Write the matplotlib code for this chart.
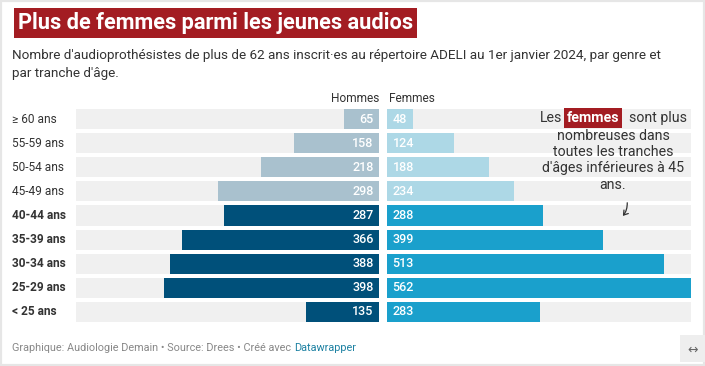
import matplotlib
matplotlib.use("Agg")
import matplotlib.pyplot as plt
from matplotlib.patches import Rectangle, FancyArrowPatch

categories = ["≥ 60 ans", "55-59 ans", "50-54 ans", "45-49 ans", "40-44 ans",
              "35-39 ans", "30-34 ans", "25-29 ans", "< 25 ans"]
hommes = [65, 158, 218, 298, 287, 366, 388, 398, 135]
femmes = [48, 124, 188, 234, 288, 399, 513, 562, 283]
highlight = [False, False, False, False, True, True, True, True, True]

W, H = 705, 366
fig = plt.figure(figsize=(W / 100, H / 100), dpi=100)
fig.patch.set_facecolor("white")
plt.rcParams['font.family'] = ['Roboto', 'DejaVu Sans']

def fx(px):
    return px / W

def fy(py):
    return 1 - py / H

# outer light border
fig.add_artist(Rectangle((0, 0), 1, 1, transform=fig.transFigure, fill=False,
                         edgecolor="#e6e6e6", lw=3))
# bottom-right icon box
fig.add_artist(Rectangle((fx(680), fy(362)), fx(25), 27 / H,
                         transform=fig.transFigure, facecolor="#eeeeee", edgecolor="none"))
fig.text(fx(693), fy(350), "↔", ha="center", va="center", fontsize=9, color="#666666",
         family=['DejaVu Sans'])

# Title
fig.text(fx(18), fy(23), "Plus de femmes parmi les jeunes audios", fontsize=15.7,
         fontweight="bold", color="white", ha="left", va="center",
         bbox=dict(boxstyle="square,pad=0.18", facecolor="#a31c22", edgecolor="none"))
# Subtitle
fig.text(fx(12), fy(55), "Nombre d'audioprothésistes de plus de 62 ans inscrit·es au répertoire ADELI au 1er janvier 2024, par genre et",
         fontsize=9.7, color="#333333", ha="left", va="center")
fig.text(fx(12), fy(73), "par tranche d'âge.", fontsize=9.7, color="#333333", ha="left", va="center")

# Footer
ft = fig.text(fx(12), fy(348), "Graphique: Audiologie Demain • Source: Drees • Créé avec ",
              fontsize=7.8, color="#888888", ha="left", va="center")
fig.canvas.draw()
bb = ft.get_window_extent()
fig.text(bb.x1 / W, fy(348), "Datawrapper", fontsize=7.8, color="#1d81a2", ha="left", va="center")

top, bottom = 107, 324
n = len(categories)
ax_m = fig.add_axes([fx(76), fy(bottom), fx(379 - 76), (bottom - top) / H])
ax_f = fig.add_axes([fx(387), fy(bottom), fx(691 - 387), (bottom - top) / H])
maxv = max(max(hommes), max(femmes))
ypos = list(range(n))
bh = 0.83

for ax in (ax_m, ax_f):
    ax.set_ylim(n - 0.5, -0.5)
    ax.axis("off")
    ax.barh(ypos, [maxv] * n, height=bh, color="#f0f0f0", edgecolor="none")
ax_m.set_xlim(maxv, 0)
ax_f.set_xlim(0, maxv)

mcol = ["#00507a" if h else "#a9c1ce" for h in highlight]
fcol = ["#1aa0cc" if h else "#add8e6" for h in highlight]
ax_m.barh(ypos, hommes, height=bh, color=mcol, edgecolor="none")
ax_f.barh(ypos, femmes, height=bh, color=fcol, edgecolor="none")

for i in range(n):
    ax_m.annotate(str(hommes[i]), (0, i), xytext=(-4, 0), textcoords="offset points",
                  ha="right", va="center", color="white", fontsize=9, fontweight="medium")
    ax_f.annotate(str(femmes[i]), (0, i), xytext=(4, 0), textcoords="offset points",
                  ha="left", va="center", color="white", fontsize=9, fontweight="medium")
    ax_m.annotate(categories[i], (maxv, i), xytext=(-64 * 0.72, 0),
                  textcoords="offset points", ha="left", va="center", color="#333333",
                  fontsize=8.6, fontweight="bold" if highlight[i] else "normal",
                  annotation_clip=False)

fig.text(fx(379), fy(98), "Hommes", ha="right", va="center", fontsize=8.6, color="#333333")
fig.text(fx(389), fy(98), "Femmes", ha="left", va="center", fontsize=8.6, color="#333333")

# Annotation
afs = 10.2
ann_c = 613
fig.text(fx(540), fy(118), "Les", ha="left", va="center", fontsize=afs, color="#333333")
fig.text(fx(567), fy(118), "femmes", ha="left", va="center", fontsize=afs, color="white",
         fontweight="bold", bbox=dict(boxstyle="square,pad=0.2", facecolor="#a31c22", edgecolor="none"))
fig.text(fx(687), fy(118), "sont plus", ha="right", va="center", fontsize=afs, color="#333333")
for k, (line, yy) in enumerate(zip(["nombreuses dans", "toutes les tranches", "d'âges inférieures à 45", "ans."],
                                  [136, 152, 168, 185])):
    fig.text(fx(ann_c), fy(yy), line, ha="center", va="center", fontsize=afs, color="#333333")
arr = FancyArrowPatch((fx(627), fy(200)), (fx(621), fy(218)), transform=fig.transFigure,
                      connectionstyle="arc3,rad=-0.25", arrowstyle="->,head_length=3,head_width=2",
                      color="#333333", lw=0.9)
fig.add_artist(arr)

fig.savefig("out.png", dpi=100, facecolor="white")
